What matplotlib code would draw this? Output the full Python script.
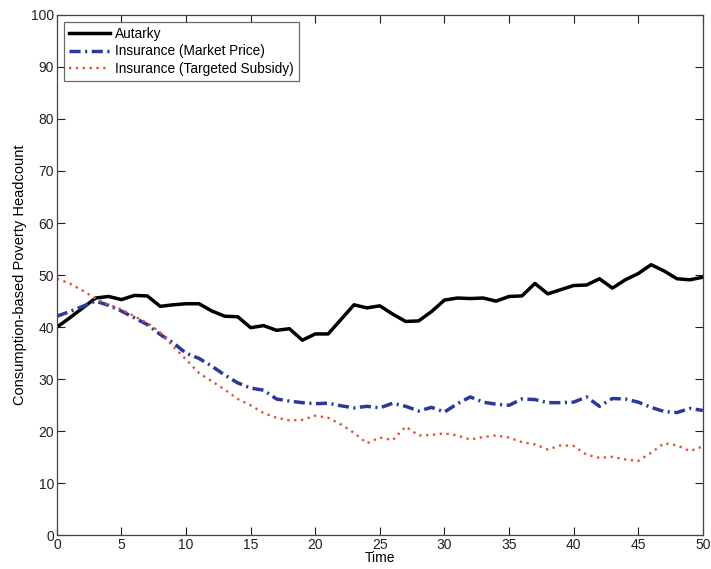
import matplotlib
matplotlib.use("Agg")
import matplotlib.pyplot as plt
import numpy as np

time = list(range(0, 51))
autarky = [40.0, 41.8, 43.7, 45.6, 45.9, 45.3, 46.1, 46.0, 44.0, 44.3,
           44.5, 44.5, 43.1, 42.1, 42.0, 39.9, 40.3, 39.4, 39.7, 37.5,
           38.7, 38.7, 41.5, 44.3, 43.7, 44.1, 42.5, 41.1, 41.2, 43.0,
           45.2, 45.6, 45.5, 45.6, 45.0, 45.9, 46.0, 48.4, 46.4, 47.2,
           48.0, 48.1, 49.3, 47.5, 49.1, 50.3, 52.0, 50.8, 49.3, 49.1, 49.6]
market = [42.1, 43.0, 44.0, 45.0, 44.2, 43.1, 41.8, 40.5, 38.6, 37.0,
          35.0, 34.0, 32.5, 30.8, 29.3, 28.3, 27.9, 26.2, 25.8, 25.5,
          25.3, 25.4, 24.9, 24.5, 24.8, 24.5, 25.4, 24.8, 23.9, 24.6,
          23.7, 25.3, 26.6, 25.6, 25.2, 25.0, 26.2, 26.1, 25.5, 25.5,
          25.6, 26.6, 24.8, 26.3, 26.2, 25.6, 24.6, 23.8, 23.6, 24.4, 24.0]
subsidy = [49.3, 48.4, 47.0, 45.5, 44.3, 43.4, 42.1, 40.8, 39.0, 36.3,
           33.8, 31.2, 29.6, 28.0, 26.2, 25.0, 23.5, 22.6, 22.1, 22.2,
           23.0, 22.6, 21.3, 19.7, 17.7, 18.8, 18.3, 20.9, 19.2, 19.3,
           19.6, 19.2, 18.4, 18.9, 19.2, 18.8, 17.9, 17.5, 16.5, 17.3,
           17.2, 15.5, 14.9, 15.1, 14.6, 14.3, 15.9, 17.7, 17.3, 16.2, 17.1]

labels = ["Autarky", "Insurance (Market Price)", "Insurance (Targeted Subsidy)"]
x_ticks = list(range(0, 51, 5))
y_ticks = list(range(0, 101, 10))

plt.rcParams['font.family'] = ['Liberation Sans', 'DejaVu Sans']

fig = plt.figure(figsize=(7.11, 5.69), dpi=100)
ax = fig.add_axes([0.080, 0.059, 0.9085, 0.915])

ax.plot(time, autarky, color='black', lw=2.5, ls='-', label=labels[0])
ax.plot(time, market, color='#2b3a9a', lw=2.5, ls=(0, (3.2, 1.3, 0.6, 1.3)), label=labels[1])
ax.plot(time, subsidy, color='#e0553a', lw=1.7, ls=(0, (1.0, 1.9)), label=labels[2])

ax.set_xlim(0, 50)
ax.set_ylim(0, 100)
ax.set_xticks(x_ticks)
ax.set_yticks(y_ticks)
ax.tick_params(direction='in', top=True, right=True, labelsize=10, length=6, width=0.8, colors='#222222', pad=2)
for s in ax.spines.values():
    s.set_color('#444444')
    s.set_linewidth(0.9)

ax.set_xlabel('Time', fontsize=10, labelpad=-1)
ax.set_ylabel('Consumption-based Poverty Headcount', fontsize=10.5, labelpad=3)

leg = ax.legend(loc='upper left', fontsize=9.8, handlelength=3.0, frameon=True, fancybox=False,
                borderpad=0.35, labelspacing=0.25, handletextpad=0.4, borderaxespad=0.55)
leg.get_frame().set_edgecolor('#444444')
leg.get_frame().set_linewidth(0.9)

fig.savefig('out.png', dpi=100)
